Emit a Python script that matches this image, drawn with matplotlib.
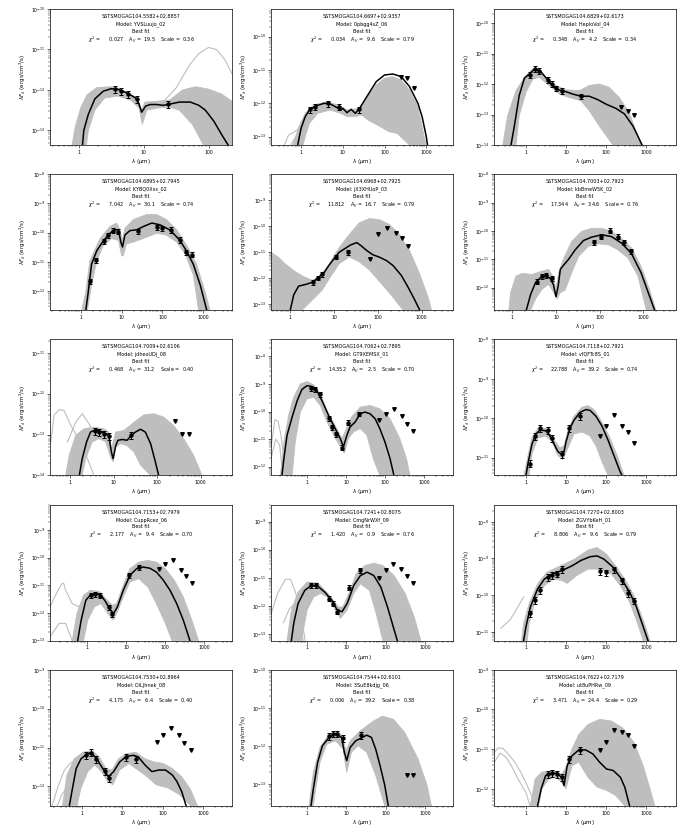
import matplotlib
matplotlib.use('Agg')
import matplotlib.pyplot as plt
import numpy as np
from matplotlib.ticker import FixedLocator, FixedFormatter, NullFormatter, LogLocator

# source info, one entry per panel (row by row)
names = ['SSTSMOGAG104.5582+02.8857', 'SSTSMOGAG104.6697+02.9357', 'SSTSMOGAG104.6829+02.6173',
         'SSTSMOGAG104.6895+02.7945', 'SSTSMOGAG104.6968+02.7925', 'SSTSMOGAG104.7003+02.7923',
         'SSTSMOGAG104.7009+02.6106', 'SSTSMOGAG104.7062+02.7895', 'SSTSMOGAG104.7118+02.7921',
         'SSTSMOGAG104.7153+02.7979', 'SSTSMOGAG104.7241+02.8075', 'SSTSMOGAG104.7270+02.8003',
         'SSTSMOGAG104.7530+02.8964', 'SSTSMOGAG104.7544+02.6101', 'SSTSMOGAG104.7622+02.7179']
models = ['YVSLuujo_02', '0pbgg4sZ_06', 'HepIoVoI_04',
          'KYBQ0Xxs_02', 'jX3XHUoP_03', 'kbBmeW5K_02',
          'jdheoUDj_08', 'GT9XEMSX_01', 'vfQFTc8S_01',
          'CuppRcez_06', 'CmgNrWXf_09', 'ZGVYbKeH_01',
          'OiLJhnek_08', '3SuE8kdjg_06', 'ut8uPHRw_09']
chi2 = [0.027, 0.034, 0.348, 7.042, 11.812, 17.344, 0.468, 14.352, 22.788,
        2.177, 1.420, 8.806, 4.175, 0.006, 3.471]
av = [19.5, 9.6, 4.2, 30.1, 16.7, 34.6, 31.2, 2.5, 39.2, 9.4, 0.9, 9.6, 6.4, 39.2, 24.4]
scale = [0.36, 0.79, 0.34, 0.74, 0.79, 0.76, 0.40, 0.70, 0.74, 0.70, 0.76, 0.79, 0.40, 0.38, 0.29]

# axis ranges, log10(micron) and log10(erg/cm2/s)
x_range = [(-0.44, 2.36), (-0.72, 3.64), (-0.8, 3.75),
           (-0.76, 3.71), (-0.44, 3.72), (-0.42, 3.75),
           (-0.46, 3.72), (-0.92, 3.73), (-0.8, 3.75),
           (-0.95, 3.72), (-0.92, 3.72), (-0.8, 3.75),
           (-0.8, 3.72), (-0.92, 3.72), (-0.8, 3.75)]
y_range = [(-13.36, -10.0), (-13.25, -9.17), (-14.0, -9.54),
           (-12.65, -8.0), (-13.22, -8.01), (-12.8, -8.0),
           (-14.0, -10.67), (-12.32, -7.38), (-11.45, -8.0),
           (-13.0, -8.08), (-13.24, -8.39), (-11.24, -7.53),
           (-12.5, -9.0), (-13.58, -10.0), (-12.43, -9.0)]

# photometry (log10 wavelength, log10 flux)
pt_lw = [[0.556, 0.653, 0.763, 0.903, 1.380],
         [0.21, 0.342, 0.653, 0.903, 1.38],
         [0.11, 0.225, 0.33, 0.54, 0.65, 0.75, 0.89, 1.375],
         [0.22, 0.36, 0.57, 0.67, 0.78, 0.92, 1.39, 1.86, 2.0, 2.21, 2.43, 2.57, 2.72],
         [0.52, 0.64, 0.73, 1.05, 1.32],
         [0.57, 0.67, 0.77, 0.91, 1.86, 2.03, 2.23, 2.42, 2.56, 2.73],
         [0.565, 0.66, 0.78, 0.89, 1.39],
         [0.1, 0.21, 0.32, 0.55, 0.64, 0.75, 0.89, 1.06, 1.34],
         [0.097, 0.217, 0.342, 0.556, 0.653, 0.903, 1.08, 1.342],
         [0.097, 0.217, 0.342, 0.556, 0.653, 1.08, 1.342],
         [0.097, 0.217, 0.556, 0.653, 0.763, 1.08, 1.342],
         [0.097, 0.217, 0.342, 0.556, 0.653, 0.763, 0.903, 1.845, 2.0, 2.2, 2.4, 2.54, 2.7],
         [0.097, 0.217, 0.342, 0.556, 0.653, 1.08, 1.342],
         [0.556, 0.653, 0.763, 0.903, 1.38],
         [0.556, 0.653, 0.763, 0.903, 1.08, 1.342]]
pt_lf = [[-11.98, -12.02, -12.1, -12.22, -12.35],
         [-12.18, -12.1, -12.0, -12.1, -12.18],
         [-11.7, -11.5, -11.56, -11.86, -11.99, -12.14, -12.22, -12.4],
         [-11.65, -10.93, -10.29, -10.08, -9.93, -9.96, -9.94, -9.81, -9.85, -9.9, -10.24, -10.67, -10.75],
         [-12.15, -11.97, -11.85, -11.18, -11.0],
         [-11.79, -11.59, -11.55, -11.68, -10.41, -10.2, -9.99, -10.2, -10.39, -10.72],
         [-12.92, -12.94, -12.98, -13.04, -13.02],
         [-9.14, -9.18, -9.38, -10.23, -10.56, -10.83, -11.31, -10.4, -10.08],
         [-11.15, -10.45, -10.25, -10.3, -10.5, -10.9, -10.25, -9.95],
         [-11.36, -11.32, -11.37, -11.78, -12.04, -10.64, -10.34],
         [-11.27, -11.27, -11.74, -11.92, -12.21, -11.35, -10.74],
         [-10.5, -10.14, -9.86, -9.51, -9.45, -9.41, -9.29, -9.35, -9.38, -9.3, -9.6, -9.95, -10.15],
         [-11.2, -11.13, -11.3, -11.6, -11.79, -11.24, -11.29],
         [-11.75, -11.68, -11.68, -11.8, -11.72],
         [-11.63, -11.61, -11.63, -11.71, -11.25, -11.02]]

# upper limits
lim_lw = [[], [2.4, 2.54, 2.7], [2.375, 2.54, 2.69], [], [1.83, 2.0, 2.2, 2.41, 2.56, 2.7], [],
          [2.42, 2.57, 2.74], [1.85, 2.01, 2.22, 2.42, 2.56, 2.71],
          [1.845, 2.0, 2.2, 2.4, 2.54, 2.7],
          [1.845, 2.0, 2.2, 2.4, 2.54, 2.7], [1.845, 2.0, 2.2, 2.4, 2.54, 2.7], [],
          [1.845, 2.0, 2.2, 2.4, 2.54, 2.7], [2.54, 2.7], [1.845, 2.0, 2.2, 2.4, 2.54, 2.7]]
lim_lf = [[], [-11.2, -11.25, -11.55], [-12.74, -12.87, -13.0], [],
          [-11.25, -10.32, -10.07, -10.27, -10.45, -10.77], [],
          [-12.67, -12.98, -12.98], [-10.32, -10.08, -9.92, -10.17, -10.44, -10.71],
          [-10.45, -10.2, -9.93, -10.2, -10.35, -10.62],
          [-10.4, -10.22, -10.1, -10.44, -10.68, -10.92], [-11.0, -10.74, -10.51, -10.68, -10.94, -11.19], [],
          [-10.87, -10.68, -10.49, -10.68, -10.89, -11.06], [-12.77, -12.78],
          [-11.02, -10.82, -10.52, -10.57, -10.64, -10.93]]

# best-fit model SEDs
best_fit = [
    [(0.06, -13.36), (0.08, -13.0), (0.15, -12.6), (0.25, -12.22), (0.38, -12.03), (0.5, -11.97), (0.6, -11.98),
     (0.75, -12.08), (0.88, -12.2), (0.93, -12.35), (0.97, -12.55), (1.03, -12.4), (1.1, -12.36), (1.2, -12.36),
     (1.3, -12.38), (1.4, -12.35), (1.55, -12.3), (1.72, -12.3), (1.85, -12.38), (1.95, -12.5), (2.08, -12.77),
     (2.2, -13.1), (2.3, -13.36)],
    [(-0.08, -13.25), (0.0, -12.75), (0.1, -12.4), (0.2, -12.2), (0.35, -12.08), (0.55, -12.0), (0.7, -12.02),
     (0.85, -12.12), (0.95, -12.2), (1.0, -12.15), (1.1, -12.28), (1.2, -12.18), (1.3, -12.3), (1.4, -12.15),
     (1.6, -11.75), (1.8, -11.35), (2.0, -11.15), (2.2, -11.12), (2.4, -11.2), (2.6, -11.5), (2.8, -12.0),
     (2.9, -12.4), (3.0, -13.0), (3.03, -13.25)],
    [(-0.375, -14.0), (-0.29, -13.37), (-0.17, -12.38), (-0.04, -11.81), (0.11, -11.64), (0.225, -11.49),
     (0.375, -11.6), (0.54, -11.86), (0.67, -12.05), (0.79, -12.19), (0.92, -12.22), (1.04, -12.27),
     (1.17, -12.33), (1.375, -12.4), (1.58, -12.4), (1.79, -12.51), (2.0, -12.66), (2.25, -12.8), (2.46, -12.98),
     (2.67, -13.37), (2.79, -13.69), (2.9, -14.0)],
    [(0.12, -12.65), (0.18, -12.02), (0.26, -11.08), (0.39, -10.61), (0.55, -10.28), (0.71, -10.02), (0.84, -9.9),
     (0.92, -9.9), (0.98, -10.32), (1.02, -10.49), (1.08, -10.08), (1.2, -9.93), (1.37, -9.9), (1.53, -9.79),
     (1.74, -9.67), (1.94, -9.73), (2.19, -9.91), (2.43, -10.26), (2.6, -10.64), (2.76, -11.08), (2.93, -11.79),
     (3.09, -12.65)],
    [(0.0, -13.22), (0.08, -12.63), (0.19, -12.3), (0.38, -12.22), (0.52, -12.14), (0.64, -11.97), (0.77, -11.79),
     (0.88, -11.51), (1.0, -11.25), (1.12, -11.0), (1.23, -10.88), (1.38, -10.72), (1.52, -10.63), (1.62, -10.75),
     (1.73, -10.91), (1.88, -11.09), (2.04, -11.19), (2.2, -11.32), (2.35, -11.51), (2.54, -11.89), (2.69, -12.33),
     (2.85, -12.84), (2.96, -13.22)],
    [(0.32, -12.8), (0.42, -12.24), (0.53, -11.83), (0.64, -11.66), (0.76, -11.6), (0.86, -11.66), (0.94, -11.89),
     (1.0, -12.32), (1.05, -11.95), (1.1, -11.36), (1.17, -11.22), (1.29, -11.0), (1.44, -10.67), (1.63, -10.34),
     (1.82, -10.22), (2.05, -10.14), (2.27, -10.2), (2.5, -10.43), (2.73, -10.8), (2.95, -11.48), (3.14, -12.29),
     (3.26, -12.8)],
    [(0.21, -14.02), (0.28, -13.59), (0.38, -13.18), (0.47, -12.94), (0.59, -12.88), (0.7, -12.92), (0.82, -12.98),
     (0.89, -13.02), (0.95, -13.43), (0.99, -13.59), (1.05, -13.27), (1.1, -13.14), (1.2, -13.12), (1.31, -13.14),
     (1.39, -13.04), (1.5, -12.94), (1.62, -12.87), (1.73, -12.94), (1.85, -13.22), (1.96, -13.67), (2.04, -14.02)],
    [(-0.64, -12.32), (-0.59, -11.7), (-0.51, -10.86), (-0.38, -10.2), (-0.25, -9.6), (-0.13, -9.2), (0.0, -9.06),
     (0.13, -9.09), (0.25, -9.24), (0.38, -9.6), (0.55, -10.14), (0.72, -10.62), (0.85, -10.98), (0.93, -11.28),
     (1.02, -10.86), (1.1, -10.56), (1.23, -10.38), (1.36, -10.08), (1.48, -10.02), (1.61, -10.08), (1.74, -10.26),
     (1.86, -10.62), (1.99, -11.1), (2.12, -11.7), (2.22, -12.32)],
    [(0.0, -11.45), (0.05, -11.15), (0.15, -10.65), (0.25, -10.4), (0.35, -10.3), (0.5, -10.32), (0.6, -10.45),
     (0.7, -10.65), (0.8, -10.85), (0.9, -10.92), (0.95, -10.85), (1.0, -10.6), (1.1, -10.25), (1.2, -10.05),
     (1.35, -9.85), (1.5, -9.78), (1.6, -9.8), (1.75, -9.95), (1.9, -10.2), (2.05, -10.55), (2.2, -10.95),
     (2.35, -11.35), (2.4, -11.45)],
    [(-0.24, -13.0), (-0.15, -12.26), (-0.03, -11.54), (0.08, -11.36), (0.25, -11.3), (0.36, -11.36), (0.48, -11.6),
     (0.59, -11.87), (0.68, -12.02), (0.78, -11.78), (0.93, -11.18), (1.1, -10.64), (1.27, -10.4), (1.44, -10.34),
     (1.61, -10.38), (1.78, -10.52), (1.95, -10.8), (2.13, -11.18), (2.3, -11.66), (2.47, -12.26), (2.64, -13.0)],
    [(-0.4, -13.24), (-0.34, -12.62), (-0.23, -11.92), (-0.06, -11.45), (0.11, -11.27), (0.28, -11.31),
     (0.45, -11.51), (0.63, -11.8), (0.77, -12.15), (0.89, -12.21), (1.02, -11.92), (1.19, -11.27), (1.36, -10.92),
     (1.53, -10.8), (1.7, -10.92), (1.88, -11.33), (2.05, -12.04), (2.22, -12.86), (2.3, -13.24)],
    [(-0.06, -11.24), (0.0, -10.86), (0.11, -10.32), (0.29, -9.83), (0.46, -9.56), (0.69, -9.41), (0.92, -9.32),
     (1.15, -9.2), (1.38, -9.05), (1.61, -8.95), (1.78, -8.93), (1.95, -9.02), (2.18, -9.24), (2.41, -9.6),
     (2.59, -9.92), (2.76, -10.32), (2.93, -10.86), (3.05, -11.24)],
    [(-0.32, -12.5), (-0.24, -12.04), (-0.15, -11.54), (-0.03, -11.29), (0.08, -11.2), (0.22, -11.13),
     (0.36, -11.29), (0.51, -11.54), (0.65, -11.75), (0.78, -11.62), (0.93, -11.37), (1.1, -11.23), (1.27, -11.2),
     (1.39, -11.24), (1.56, -11.45), (1.73, -11.62), (1.9, -11.58), (2.07, -11.58), (2.24, -11.71), (2.35, -11.87),
     (2.47, -12.13), (2.58, -12.5)],
    [(0.1, -13.58), (0.16, -13.13), (0.27, -12.43), (0.39, -12.0), (0.56, -11.78), (0.73, -11.68), (0.88, -11.78),
     (0.95, -12.17), (1.01, -12.39), (1.1, -12.04), (1.24, -11.87), (1.41, -11.78), (1.52, -11.72), (1.64, -11.78),
     (1.75, -12.09), (1.86, -12.52), (1.98, -13.04), (2.07, -13.58)],
    [(0.29, -12.43), (0.38, -12.0), (0.49, -11.67), (0.63, -11.61), (0.77, -11.61), (0.89, -11.71), (0.95, -11.92),
     (1.03, -11.42), (1.15, -11.17), (1.32, -11.02), (1.49, -11.02), (1.67, -11.12), (1.84, -11.33), (2.01, -11.5),
     (2.18, -11.54), (2.36, -11.71), (2.47, -11.96), (2.59, -12.43)],
]

# outline of the dense bundle of other good-fit models (upper edge, then lower edge back)
model_band = [
    [(-0.1, -13.36), (-0.05, -12.9), (0.03, -12.45), (0.13, -12.12), (0.28, -11.94), (0.5, -11.92), (0.6, -11.95),
     (0.85, -12.15), (0.93, -12.3), (0.97, -12.5), (1.02, -12.3), (1.2, -12.28), (1.4, -12.25), (1.6, -12.0),
     (1.8, -11.92), (2.0, -11.98), (2.2, -12.1), (2.36, -12.28),
     (2.36, -13.36), (1.92, -13.36), (1.75, -12.85), (1.55, -12.5), (1.4, -12.42), (1.2, -12.45), (1.05, -12.5),
     (0.98, -12.85), (0.93, -12.45), (0.8, -12.25), (0.6, -12.15), (0.4, -12.2), (0.25, -12.5), (0.15, -13.0),
     (0.12, -13.36)],
    [(-0.2, -13.25), (-0.05, -12.7), (0.1, -12.3), (0.3, -12.05), (0.6, -11.95), (0.9, -12.05), (1.1, -12.2),
     (1.4, -12.15), (1.6, -11.8), (1.8, -11.45), (2.0, -11.25), (2.2, -11.2), (2.4, -11.3), (2.6, -11.6),
     (2.8, -12.1), (2.95, -13.0), (3.0, -13.25),
     (2.6, -13.25), (2.3, -12.9), (2.1, -12.85), (1.9, -12.7), (1.6, -12.5), (1.45, -12.35), (1.3, -12.4),
     (1.1, -12.4), (0.95, -12.3), (0.7, -12.2), (0.4, -12.3), (0.2, -12.6), (0.1, -13.0), (0.05, -13.25)],
    [(-0.58, -14.0), (-0.46, -13.04), (-0.25, -12.22), (-0.04, -11.78), (0.17, -11.5), (0.375, -11.6),
     (0.67, -12.0), (1.0, -12.19), (1.33, -12.22), (1.58, -12.05), (1.83, -12.0), (2.08, -12.11), (2.33, -12.44),
     (2.58, -12.93), (2.79, -13.69), (2.92, -14.0),
     (2.17, -14.0), (1.83, -13.37), (1.58, -12.87), (1.375, -12.55), (1.08, -12.44), (0.83, -12.33),
     (0.58, -12.05), (0.33, -11.78), (0.17, -11.84), (0.0, -12.27), (-0.17, -13.04), (-0.25, -14.0)],
    [(0.02, -12.65), (0.12, -12.02), (0.22, -10.96), (0.47, -10.2), (0.71, -9.79), (0.88, -9.67), (0.96, -9.9),
     (1.02, -10.26), (1.08, -9.85), (1.29, -9.55), (1.61, -9.38), (1.86, -9.38), (2.1, -9.55), (2.35, -9.9),
     (2.6, -10.44), (2.84, -11.08), (3.05, -12.02), (3.17, -12.65),
     (2.89, -12.65), (2.76, -11.44), (2.56, -10.73), (2.35, -10.32), (2.1, -10.08), (1.86, -10.02),
     (1.53, -10.2), (1.29, -10.32), (1.12, -10.38), (1.04, -10.79), (1.0, -10.79), (0.92, -10.26),
     (0.75, -10.2), (0.55, -10.44), (0.39, -10.96), (0.26, -11.79), (0.16, -12.65)],
    [(-0.44, -11.0), (-0.27, -11.19), (-0.12, -11.44), (0.12, -11.75), (0.31, -11.94), (0.5, -12.07),
     (0.65, -11.94), (0.85, -11.56), (1.0, -11.13), (1.15, -10.75), (1.35, -10.32), (1.58, -9.87), (1.81, -9.71),
     (2.04, -9.75), (2.27, -9.94), (2.5, -10.32), (2.73, -10.95), (2.96, -11.84), (3.15, -12.72), (3.23, -13.22),
     (2.58, -13.22), (2.27, -12.56), (2.04, -12.12), (1.81, -11.68), (1.58, -11.37), (1.35, -11.18),
     (1.12, -11.44), (0.92, -11.94), (0.73, -12.45), (0.5, -12.84), (0.27, -13.22), (-0.44, -13.22)],
    [(-0.08, -12.8), (-0.04, -12.18), (0.08, -11.6), (0.23, -11.5), (0.45, -11.54), (0.68, -11.42),
     (0.83, -11.36), (0.95, -11.66), (1.0, -12.06), (1.06, -11.48), (1.17, -11.0), (1.36, -10.37),
     (1.59, -10.02), (1.82, -9.91), (2.05, -9.91), (2.27, -10.02), (2.5, -10.26), (2.73, -10.6), (2.95, -11.25),
     (3.14, -12.06), (3.29, -12.8),
     (3.07, -12.8), (2.88, -11.6), (2.65, -10.96), (2.42, -10.67), (2.2, -10.49), (1.97, -10.46), (1.74, -10.55),
     (1.52, -10.9), (1.36, -11.48), (1.21, -12.09), (1.1, -12.18), (1.02, -12.41), (0.95, -12.18),
     (0.83, -11.89), (0.68, -12.06), (0.53, -12.41), (0.42, -12.8)],
    [(-0.1, -14.0), (-0.02, -13.51), (0.13, -13.02), (0.32, -12.86), (0.55, -12.82), (0.78, -12.86),
     (0.89, -12.94), (0.95, -13.35), (1.05, -12.94), (1.24, -12.9), (1.47, -12.7), (1.69, -12.52), (1.92, -12.49),
     (2.15, -12.57), (2.38, -12.78), (2.61, -13.1), (2.84, -13.51), (3.03, -14.0),
     (1.85, -14.0), (1.62, -13.75), (1.47, -13.43), (1.31, -13.27), (1.16, -13.22), (1.05, -13.31),
     (0.99, -13.67), (0.93, -13.55), (0.82, -13.18), (0.66, -13.1), (0.51, -13.18), (0.36, -13.59), (0.28, -14.0)],
    [(-0.68, -12.32), (-0.59, -11.1), (-0.47, -10.14), (-0.34, -9.48), (-0.17, -9.0), (0.0, -8.91), (0.17, -9.03),
     (0.34, -9.36), (0.55, -10.08), (0.76, -10.62), (0.89, -10.98), (0.97, -10.74), (1.14, -10.2), (1.36, -9.84),
     (1.61, -9.78), (1.86, -9.9), (2.12, -10.26), (2.37, -10.98), (2.54, -11.7), (2.63, -12.32),
     (1.86, -12.32), (1.69, -11.7), (1.53, -10.86), (1.36, -10.62), (1.19, -10.74), (1.06, -10.98),
     (0.95, -11.52), (0.85, -11.28), (0.68, -10.86), (0.51, -10.38), (0.34, -9.78), (0.17, -9.48), (0.0, -9.54),
     (-0.17, -10.02), (-0.3, -11.1), (-0.38, -12.32)],
    [(-0.05, -11.45), (0.05, -10.95), (0.15, -10.5), (0.3, -10.25), (0.5, -10.25), (0.7, -10.55), (0.85, -10.75),
     (0.95, -10.7), (1.05, -10.3), (1.2, -9.95), (1.4, -9.72), (1.55, -9.68), (1.7, -9.78), (1.9, -10.1),
     (2.1, -10.5), (2.3, -11.0), (2.45, -11.45),
     (2.05, -11.45), (1.9, -11.1), (1.75, -10.7), (1.6, -10.45), (1.4, -10.35), (1.2, -10.4), (1.05, -10.75),
     (0.92, -11.05), (0.8, -10.95), (0.65, -10.6), (0.5, -10.45), (0.3, -10.5), (0.15, -10.9), (0.08, -11.45)],
    [(-0.38, -13.0), (-0.26, -12.02), (-0.09, -11.36), (0.08, -11.18), (0.31, -11.22), (0.48, -11.48),
     (0.65, -11.72), (0.76, -11.66), (0.93, -11.0), (1.1, -10.4), (1.33, -10.16), (1.56, -10.1), (1.78, -10.16),
     (2.01, -10.4), (2.24, -10.82), (2.47, -11.42), (2.69, -12.26), (2.86, -13.0),
     (2.18, -13.0), (2.01, -12.38), (1.78, -11.66), (1.56, -11.06), (1.33, -10.76), (1.1, -10.88), (0.93, -11.42),
     (0.78, -11.96), (0.67, -12.26), (0.53, -12.02), (0.36, -11.66), (0.19, -11.78), (0.02, -12.26),
     (-0.09, -13.0)],
    [(-0.51, -13.24), (-0.4, -12.15), (-0.23, -11.51), (0.0, -11.15), (0.28, -11.19), (0.57, -11.62),
     (0.8, -12.04), (0.91, -12.04), (1.08, -11.51), (1.25, -10.86), (1.48, -10.56), (1.7, -10.48), (1.93, -10.56),
     (2.22, -10.92), (2.5, -11.56), (2.73, -12.39), (2.9, -13.24),
     (1.93, -13.24), (1.76, -12.27), (1.59, -11.45), (1.36, -11.21), (1.19, -11.56), (1.02, -12.15),
     (0.85, -12.45), (0.68, -12.04), (0.51, -11.68), (0.34, -11.56), (0.17, -11.68), (0.0, -12.15),
     (-0.14, -13.24)],
    [(-0.11, -11.24), (-0.06, -10.77), (0.08, -10.23), (0.29, -9.69), (0.52, -9.38), (0.86, -9.2), (1.21, -9.02),
     (1.55, -8.77), (1.78, -8.7), (2.01, -8.88), (2.24, -9.2), (2.47, -9.56), (2.7, -10.01), (2.93, -10.68),
     (3.1, -11.24),
     (2.93, -11.24), (2.76, -10.68), (2.59, -10.19), (2.36, -9.74), (2.13, -9.42), (1.84, -9.29), (1.55, -9.29),
     (1.26, -9.47), (1.03, -9.68), (0.89, -9.6), (0.69, -9.56), (0.46, -9.74), (0.23, -10.14), (0.08, -10.77),
     (0.03, -11.24)],
    [(-0.49, -12.5), (-0.38, -11.71), (-0.2, -11.29), (0.02, -11.12), (0.25, -11.08), (0.42, -11.24),
     (0.59, -11.54), (0.74, -11.58), (0.9, -11.29), (1.1, -11.16), (1.33, -11.12), (1.56, -11.29), (1.78, -11.37),
     (2.01, -11.41), (2.24, -11.54), (2.47, -11.75), (2.69, -12.08), (2.86, -12.5),
     (2.69, -12.5), (2.41, -12.21), (2.13, -12.04), (1.84, -11.96), (1.56, -11.71), (1.33, -11.54), (1.16, -11.41),
     (0.93, -11.58), (0.76, -11.96), (0.63, -11.87), (0.48, -11.62), (0.31, -11.45), (0.14, -11.62),
     (-0.03, -12.04), (-0.13, -12.5)],
    [(0.05, -13.58), (0.16, -12.7), (0.33, -12.04), (0.56, -11.7), (0.78, -11.61), (0.9, -11.74), (0.99, -12.13),
     (1.1, -11.87), (1.35, -11.61), (1.69, -11.35), (1.92, -11.22), (2.2, -11.3), (2.49, -11.65), (2.83, -12.35),
     (3.06, -13.04), (3.17, -13.58),
     (1.98, -13.58), (1.75, -12.78), (1.52, -12.17), (1.3, -12.0), (1.13, -12.17), (1.01, -12.7), (0.92, -12.09),
     (0.73, -11.87), (0.5, -11.96), (0.33, -12.43), (0.22, -13.13), (0.16, -13.58)],
    [(0.11, -12.43), (0.23, -11.75), (0.4, -11.58), (0.69, -11.54), (0.89, -11.63), (0.98, -11.5), (1.15, -11.0),
     (1.32, -10.63), (1.55, -10.38), (1.84, -10.25), (2.13, -10.29), (2.41, -10.46), (2.7, -10.83),
     (2.93, -11.42), (3.1, -12.0), (3.22, -12.43),
     (2.47, -12.43), (2.24, -12.17), (2.01, -12.04), (1.78, -11.96), (1.55, -11.71), (1.32, -11.33),
     (1.15, -11.42), (1.0, -12.0), (0.89, -11.83), (0.75, -11.71), (0.57, -11.75), (0.4, -12.0), (0.31, -12.43)],
]

# individual outlying model curves
other_models = [
    [[(1.3, -12.3), (1.5, -11.95), (1.7, -11.4), (1.85, -11.1), (2.0, -10.95), (2.12, -11.0), (2.25, -11.25),
      (2.36, -11.6)]],
    [[(-0.4, -13.25), (-0.3, -12.95), (-0.15, -12.85), (0.0, -12.7), (0.1, -12.4)],
     [(-0.25, -13.25), (-0.1, -12.95), (0.05, -12.6)]],
    [], [], [], [],
    [[(-0.44, -13.18), (-0.37, -12.53), (-0.25, -12.39), (-0.14, -12.41), (0.02, -12.78), (0.24, -13.18),
      (0.4, -13.59), (0.55, -14.0)],
     [(-0.06, -13.18), (0.13, -12.7), (0.28, -12.49), (0.44, -12.74), (0.59, -13.02)]],
    [[(-0.92, -11.3), (-0.82, -10.3), (-0.74, -10.35), (-0.66, -10.9), (-0.6, -11.6), (-0.55, -12.32)],
     [(-0.92, -11.7), (-0.8, -11.0), (-0.7, -11.2), (-0.62, -12.32)]],
    [],
    [[(-0.95, -11.78), (-0.83, -11.42), (-0.66, -10.96), (-0.6, -10.92), (-0.55, -11.18), (-0.38, -11.66),
      (-0.2, -11.78), (-0.09, -11.48)],
     [(-0.95, -12.86), (-0.83, -12.62), (-0.72, -12.38), (-0.55, -12.38), (-0.38, -13.0)]],
    [[(-0.92, -12.3), (-0.75, -11.55), (-0.55, -11.05), (-0.42, -11.05), (-0.3, -11.5), (-0.15, -12.3),
      (-0.05, -13.24)],
     [(-0.6, -12.6), (-0.45, -12.1), (-0.3, -11.9), (-0.2, -12.3), (-0.1, -13.24)]],
    [[(-0.63, -10.9), (-0.4, -10.68), (-0.23, -10.37), (-0.06, -10.05)]],
    [[(-0.75, -12.5), (-0.6, -12.0), (-0.45, -11.6), (-0.3, -11.4), (-0.15, -11.35)],
     [(-0.62, -12.5), (-0.5, -12.2), (-0.35, -12.0)]],
    [],
    [[(-0.8, -11.1), (-0.7, -10.97), (-0.58, -10.98), (-0.45, -11.12), (-0.3, -11.3), (-0.15, -11.55),
      (0.0, -11.85), (0.15, -12.2), (0.25, -12.43)],
     [(-0.8, -11.35), (-0.65, -11.1), (-0.5, -11.2), (-0.35, -11.45), (-0.2, -11.75), (0.0, -12.1),
      (0.1, -12.43)]],
]

gray = '#bebebe'
W, H = 699, 827
fig = plt.figure(figsize=(W / 100, H / 100), dpi=100)

col_left = [50, 271, 494]
ax_w, ax_h = 182, 136

for i in range(15):
    r, c = divmod(i, 3)
    top = 9 + r * 165.2
    ax = fig.add_axes([col_left[c] / W, 1 - (top + ax_h) / H, ax_w / W, ax_h / H])
    ax.set_xscale('log')
    ax.set_yscale('log')

    bx, by = zip(*model_band[i])
    ax.fill(10 ** np.array(bx), 10 ** np.array(by), color=gray, lw=0.6, zorder=1)
    for line in other_models[i]:
        lx, ly = zip(*line)
        ax.plot(10 ** np.array(lx), 10 ** np.array(ly), color=gray, lw=0.8, zorder=1)

    fx, fy = zip(*best_fit[i])
    ax.plot(10 ** np.array(fx), 10 ** np.array(fy), color='black', lw=1.1, zorder=3)

    f = 10 ** np.array(pt_lf[i])
    ax.errorbar(10 ** np.array(pt_lw[i]), f, yerr=0.2 * f, fmt='o', color='black', ms=2.2,
                elinewidth=0.7, capsize=1.5, capthick=0.7, zorder=4)
    if lim_lw[i]:
        ax.plot(10 ** np.array(lim_lw[i]), 10 ** np.array(lim_lf[i]), 'v', color='black', ms=2.6, zorder=4)

    ax.set_xlim(10 ** x_range[i][0], 10 ** x_range[i][1])
    ax.set_ylim(10 ** y_range[i][0], 10 ** y_range[i][1])

    # only label the decades that fall inside each panel
    xt = [t for t in [1, 10, 100, 1000] if 10 ** x_range[i][0] < t < 10 ** x_range[i][1]]
    ax.xaxis.set_major_locator(FixedLocator(xt))
    ax.xaxis.set_major_formatter(FixedFormatter([str(t) for t in xt]))
    ax.xaxis.set_minor_formatter(NullFormatter())
    ye = [e for e in range(-14, -6) if y_range[i][0] <= e <= y_range[i][1] + 1e-9]
    ax.yaxis.set_major_locator(FixedLocator([10.0 ** e for e in ye]))
    ax.yaxis.set_major_formatter(FixedFormatter([r'$10^{%d}$' % e for e in ye]))
    ax.yaxis.set_minor_locator(LogLocator(subs=np.arange(2, 10)))
    ax.yaxis.set_minor_formatter(NullFormatter())
    ax.tick_params(which='major', labelsize=3.3, length=2, width=0.4, pad=1.5)
    ax.tick_params(which='minor', length=1.1, width=0.3)
    for s in ax.spines.values():
        s.set_linewidth(0.5)

    ax.set_xlabel(r'$\lambda$ ($\mu$m)', fontsize=4, labelpad=1.5)
    ax.set_ylabel(r'$\lambda F_\lambda$ (ergs/cm$^2$/s)', fontsize=4, labelpad=1.6)

    ax.text(0.5, 0.945, names[i], transform=ax.transAxes, ha='center', va='center', fontsize=3.5)
    ax.text(0.5, 0.888, 'Model: ' + models[i], transform=ax.transAxes, ha='center', va='center', fontsize=3.5)
    ax.text(0.5, 0.836, 'Best fit', transform=ax.transAxes, ha='center', va='center', fontsize=3.5)
    ax.text(0.5, 0.775, r'$\chi^2$ = %10.3f    A$_V$ = %5.1f    Scale = %5.2f' % (chi2[i], av[i], scale[i]),
            transform=ax.transAxes, ha='center', va='center', fontsize=3.5)

plt.savefig('out.png', dpi=100)
